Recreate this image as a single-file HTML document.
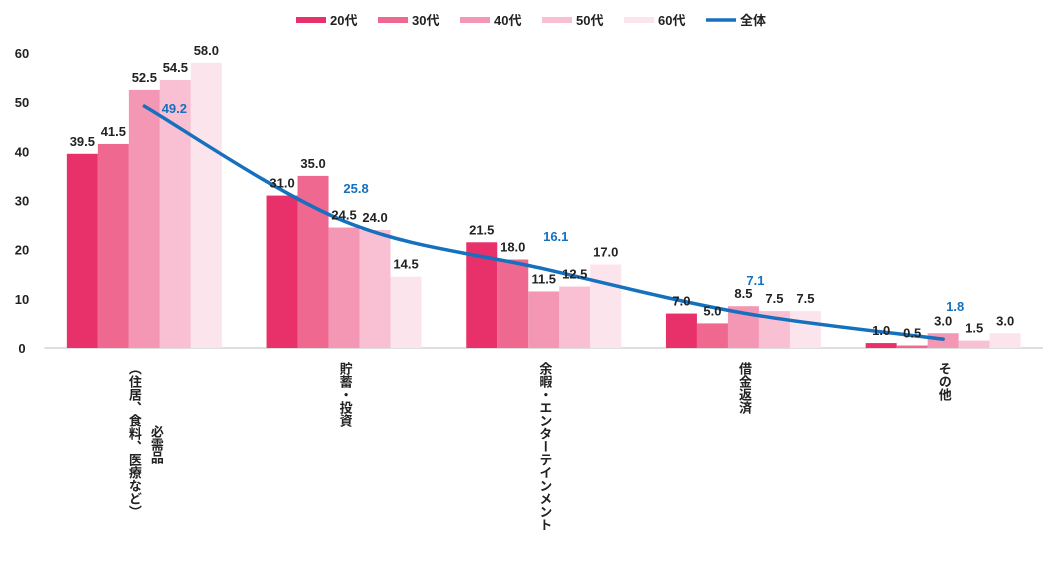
<!DOCTYPE html>
<html><head><meta charset="utf-8">
<style>
body{margin:0;background:#fff;}
svg text{font-family:"Liberation Sans","Noto Sans CJK JP",sans-serif;font-weight:bold;}
</style></head>
<body>
<svg id="chart" width="1059" height="557" viewBox="0 0 1059 557" xmlns="http://www.w3.org/2000/svg">
<g id="legend"></g>
<g id="axes"></g>
<g id="bars"></g>
<g id="line"></g>
<g id="labels"></g>
<g id="cats"></g>
</svg>
<script>
const categories = [["必需品","（住居、食料、医療など）"],["貯蓄・投資"],["余暇・エンターテインメント"],["借金返済"],["その他"]];
const seriesNames = ["20代","30代","40代","50代","60代"];
const s20 = [39.5,31.0,21.5,7.0,1.0];
const s30 = [41.5,35.0,18.0,5.0,0.5];
const s40 = [52.5,24.5,11.5,8.5,3.0];
const s50 = [54.5,24.0,12.5,7.5,1.5];
const s60 = [58.0,14.5,17.0,7.5,3.0];
const total = [49.2,25.8,16.1,7.1,1.8];
const yTicks = [0,10,20,30,40,50,60];

const series=[s20,s30,s40,s50,s60];
const colors=["#E8306A","#EE6890","#F497B4","#F8C0D2","#FCE4EC"];
const lineColor="#1570BE";
const NS="http://www.w3.org/2000/svg";
const x0=44.5, groupW=199.7, barW=31, y0=348, pxPer=295/60;
const yScale=v=>y0-v*pxPer;
const xCenter=i=>x0+groupW*(i+0.5);
function mk(tag,attrs,parent){const e=document.createElementNS(NS,tag);for(const k in attrs)e.setAttribute(k,attrs[k]);parent.appendChild(e);return e;}
const gA=document.getElementById('axes'),gB=document.getElementById('bars'),gL=document.getElementById('line'),gT=document.getElementById('labels'),gC=document.getElementById('cats'),gLe=document.getElementById('legend');

yTicks.forEach(t=>{
  const tx=mk('text',{x:22,y:yScale(t)+5,'text-anchor':'middle','font-size':13,fill:'#222'},gA);
  tx.textContent=t.toFixed(0);
  
  
});
const ax=mk('line',{x1:x0,x2:x0+groupW*5,y1:y0,y2:y0,stroke:'#bfbfbf','stroke-width':1},gA);



series.forEach((s,si)=>{
  s.forEach((v,ci)=>{
    const x=xCenter(ci)-2.5*barW+si*barW;
    const r=mk('rect',{x:x,y:yScale(v),width:barW,height:v*pxPer,fill:colors[si]},gB);
    
    
    const t=mk('text',{x:x+barW/2,y:yScale(v)-8,'text-anchor':'middle','font-size':13,fill:'#222'},gT);
    t.textContent=v.toFixed(1);
    
    
  });
});

const pts=total.map((v,i)=>[xCenter(i),yScale(v)]);
let d='M'+pts[0][0]+','+pts[0][1];
for(let i=0;i<pts.length-1;i++){
  const p0=pts[Math.max(i-1,0)],p1=pts[i],p2=pts[i+1],p3=pts[Math.min(i+2,pts.length-1)];
  const k=6;
  d+=' C'+(p1[0]+(p2[0]-p0[0])/k)+','+(p1[1]+(p2[1]-p0[1])/k)+' '+(p2[0]-(p3[0]-p1[0])/k)+','+(p2[1]-(p3[1]-p1[1])/k)+' '+p2[0]+','+p2[1];
}
const path=mk('path',{d:d,fill:'none',stroke:lineColor,'stroke-width':3.5,'stroke-linecap':'round'},gL);


total.forEach((v,i)=>{
  const first=i===0;
  const t=mk('text',{x:pts[i][0]+(first?30:12),y:pts[i][1]+(first?7:-28),'text-anchor':'middle','font-size':13,fill:lineColor},gT);
  t.textContent=v.toFixed(1);
  
  
});

categories.forEach((c,i)=>{
  const n=c.length;
  c.forEach((line,li)=>{
    const cx=xCenter(i)+(n>1?(li===0?11:-11):0);
    const t=mk('text',{x:cx,y:n>1&&li===0?425:362,'font-size':13,fill:'#222','writing-mode':'vertical-rl','dominant-baseline':'middle'},gC);
    t.textContent=line;
    
    
  });
});

const legX=[296,378,460,542,624];
seriesNames.forEach((n,i)=>{
  const r=mk('rect',{x:legX[i],y:17,width:30,height:6,fill:colors[i]},gLe);
  
  
  const t=mk('text',{x:legX[i]+34,y:25,'font-size':13,fill:'#222'},gLe);
  t.textContent=n;
  
  
});
const ll=mk('line',{x1:706,x2:736,y1:20,y2:20,stroke:lineColor,'stroke-width':3.5},gLe);


const lt=mk('text',{x:740,y:25,'font-size':13,fill:'#222'},gLe);
lt.textContent='全体';


</script>
</body></html>
